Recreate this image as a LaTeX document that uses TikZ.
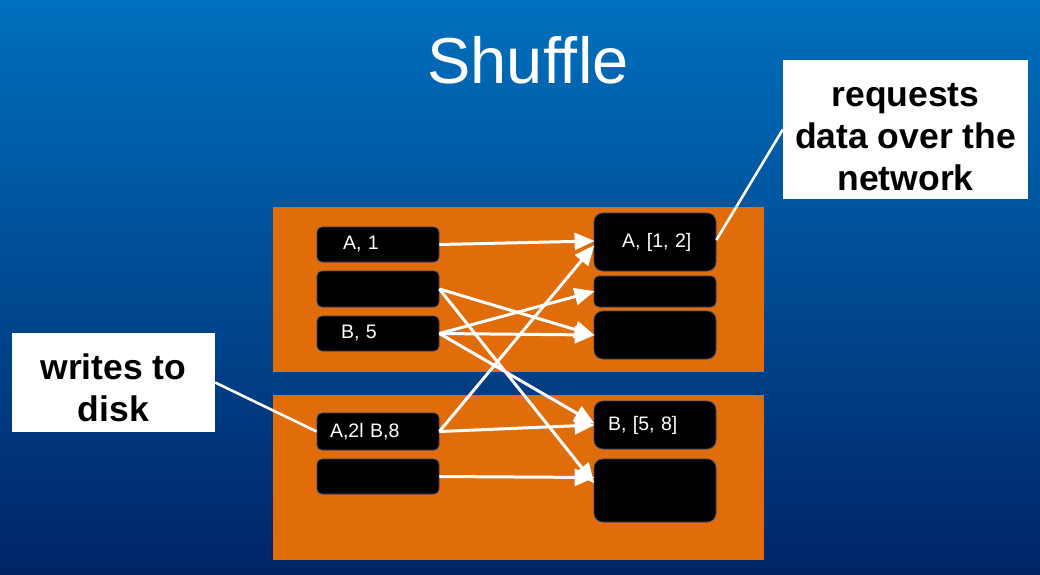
\documentclass[tikz,border=0pt]{standalone}
\usepackage{fontspec}
\setmainfont{Liberation Sans}
\usetikzlibrary{arrows.meta,calc}
\definecolor{bgtop}{RGB}{0,112,190}
\definecolor{bgbot}{RGB}{0,36,102}
\definecolor{panel}{RGB}{225,108,10}
\definecolor{edge}{RGB}{40,70,120}
\tikzset{
  panelbox/.style={fill=panel, draw=none},
  lbox/.style={fill=black, draw=edge, line width=0.8pt, rounded corners=5pt,
    minimum width=122pt, inner ysep=0pt, inner xsep=4pt, text width=114pt,
    align=left, text=white, font=\fontsize{19.5}{23}\selectfont},
  rbox/.style={lbox, rounded corners=9pt},
  calloutbox/.style={fill=white, draw=none, inner sep=0pt},
  callout/.style={align=center, inner sep=0pt,
    font=\bfseries\fontsize{35.5}{42}\selectfont},
  flow/.style={draw=white, line width=3pt, -{Triangle[length=20pt,width=17pt]}, shorten >=-1pt},
  pointer/.style={draw=white, line width=2.6pt}
}
\begin{document}
\begin{tikzpicture}[x=1pt,y=-1pt]
\useasboundingbox (0,0) rectangle (1040,574);
\shade[top color=bgtop, bottom color=bgbot] (0,0) rectangle (1040,574);

\node[font=\fontsize{65}{78}\selectfont, text=white, anchor=base, inner sep=0pt] (title) at (528,83) {Shuffle};

\node[panelbox, minimum width=491pt, minimum height=165pt, inner sep=0pt] (ptop) at (518.5,289.5) {};
\node[panelbox, minimum width=491pt, minimum height=165pt, inner sep=0pt] (pbot) at (518.5,477.5) {};

% left boxes
\node[lbox, minimum height=35pt] (a1) at (378,244.5) {\hspace*{22pt}A, 1};
\node[lbox, minimum height=36pt] (e1) at (378,289) {};
\node[lbox, minimum height=35pt] (b5) at (378,333.5) {\hspace*{20pt}B, 5};
\node[lbox, minimum height=37pt] (ab) at (378,431.5) {\hspace*{9pt}A,2l B,8};
\node[lbox, minimum height=35pt] (e2) at (378,476.5) {};

% right boxes
\node[rbox, minimum height=58pt] (r1) at (655,242) {\hspace*{24pt}A, [1, 2]};
\node[rbox, minimum height=31pt, rounded corners=5pt] (r2) at (655,291.5) {};
\node[rbox, minimum height=48pt] (r3) at (655,335) {};
\node[rbox, minimum height=48pt] (r4) at (655,425) {\hspace*{10pt}B, [5, 8]};
\node[rbox, minimum height=63pt] (r5) at (655,490.5) {};

% flows
\draw[flow] (a1.east) -- ([yshift=1pt]r1.west);
\draw[flow] (e1.east) -- (r3.west);
\draw[flow] (e1.east) -- ([yshift=8pt]r5.west);
\draw[flow] (b5.east) -- (r2.west);
\draw[flow] (b5.east) -- (r3.west);
\draw[flow] (b5.east) -- ([yshift=2pt]r4.west);
\draw[flow] (ab.east) -- ([yshift=-4pt]r1.west);
\draw[flow] (ab.east) -- (r4.west);
\draw[flow] (e2.east) -- ([yshift=13pt]r5.west);

% callouts
\node[calloutbox, minimum width=245pt, minimum height=139pt] (reqbox) at (905.5,129.5) {};
\node[callout] (req) at (905.5,137.5) {requests\\data over the\\network};
\node[calloutbox, minimum width=203pt, minimum height=99pt] (wtdbox) at (113.5,382.5) {};
\node[callout] (wtd) at (113.5,388) {writes to\\disk};
\draw[pointer] ([yshift=2pt]r1.east) -- (reqbox.west);
\draw[pointer] (wtdbox.east) -- (ab.west);
\end{tikzpicture}
\end{document}
